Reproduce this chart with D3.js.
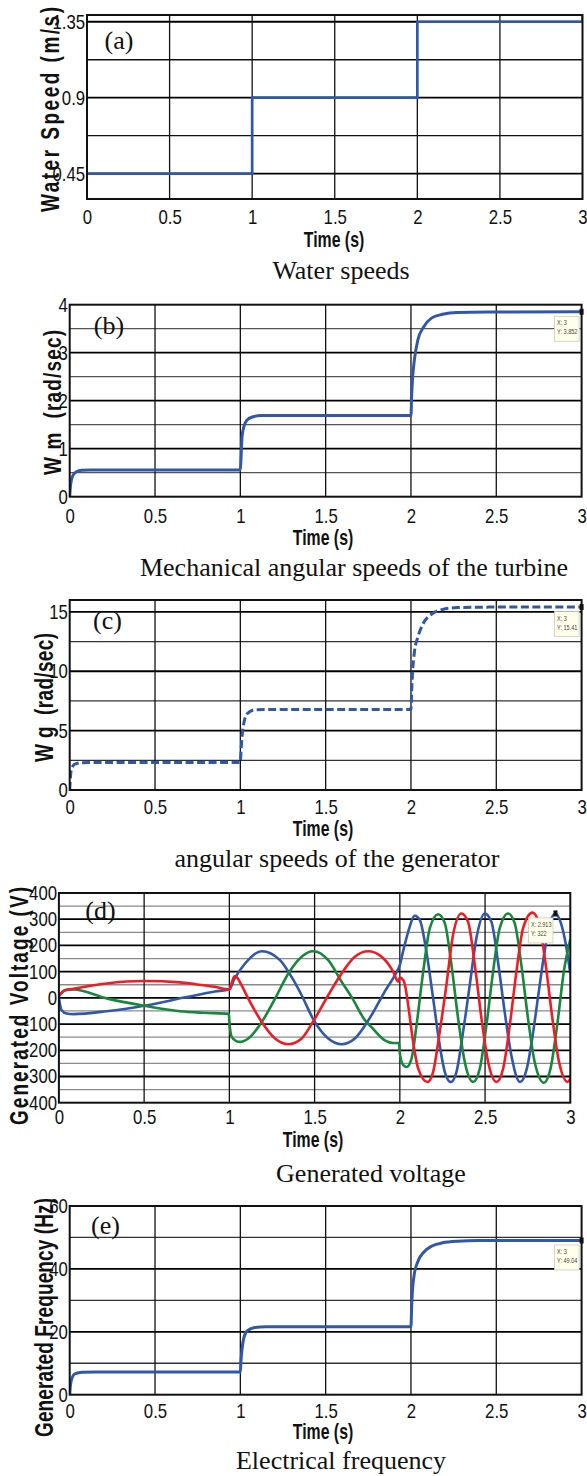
<!DOCTYPE html>
<html>
<head>
<meta charset="utf-8">
<script src="https://cdn.jsdelivr.net/npm/d3@7"></script>
<style>
    body { margin: 0; background: #fff; }
    .tick text { font-family: "Liberation Sans", Arial, sans-serif; font-size: 20px; fill: #111; }
    .xtitle { font-family: "Liberation Sans", Arial, sans-serif; font-weight: bold; font-size: 22px; fill: #111; }
    .ytitle { font-family: "Liberation Sans", Arial, sans-serif; font-weight: bold; font-size: 19px; fill: #111; white-space: pre; }
    .caption { font-family: "Liberation Serif", "Times New Roman", serif; font-size: 26px; fill: #111; }
    .letter { font-family: "Liberation Serif", "Times New Roman", serif; font-size: 26px; fill: #111; }
    .tip { font-family: "Liberation Sans", Arial, sans-serif; font-size: 6.5px; fill: #444; }
</style>
</head>
<body>
<svg id="fig" width="587" height="1476"></svg>
<script>

const xTicks = [0, 0.5, 1, 1.5, 2, 2.5, 3]

// (a) water speed
const waterTicks = [0.45, 0.9, 1.35]
const waterGrid = [0.45, 0.675, 0.9, 1.125, 1.35]
const waterTime = [0, 1, 1, 2, 2, 3, 3]
const waterSpeed = [0.45, 0.45, 0.9, 0.9, 1.35, 1.35, 1.8]

// (b) mechanical speed
const wmTicks = [0, 1, 2, 3, 4]
const wmGrid = [0.5, 1, 1.5, 2, 2.5, 3, 3.5]
const wmTime = [0, 0.004, 0.01, 0.02, 0.04, 0.07, 0.12, 1.0, 1.004, 1.01, 1.02, 1.04, 1.07, 1.12, 2.0, 2.004, 2.01, 2.02, 2.04, 2.075, 2.12, 2.185, 2.27, 2.45, 3.0]
const wmValue = [0, 0.2, 0.35, 0.45, 0.52, 0.55, 0.556, 0.556, 0.8, 1.25, 1.45, 1.6, 1.66, 1.69, 1.69, 2.1, 2.5, 2.85, 3.26, 3.54, 3.72, 3.8, 3.84, 3.85, 3.852]

// (c) generator speed
const wgTicks = [0, 5, 10, 15]
const wgGrid = [2.5, 5, 7.5, 10, 12.5, 15]
const wgTime = [0, 0.004, 0.009, 0.03, 0.075, 0.15, 1.0, 1.004, 1.01, 1.02, 1.04, 1.085, 1.15, 2.0, 2.004, 2.01, 2.02, 2.04, 2.075, 2.12, 2.185, 2.27, 2.45, 3.0]
const wgValue = [0, 1.0, 1.68, 2.18, 2.3, 2.32, 2.32, 3.3, 4.47, 5.59, 6.42, 6.76, 6.78, 6.78, 8.3, 10.06, 11.6, 12.85, 14.1, 14.8, 15.2, 15.36, 15.4, 15.41]

// (d) generated voltage, three phases
const voltTicks = [-400, -300, -200, -100, 0, 100, 200, 300, 400]
const voltGrid = [-350, -300, -250, -200, -150, -100, -50, 0, 50, 100, 150, 200, 250, 300, 350]
const blueTime = [0, 0.016, 0.046, 0.085, 0.28, 0.5, 0.75, 0.915, 1.0, 1.029, 1.092, 1.19, 1.297, 1.365, 1.424, 1.49, 1.58, 1.658, 1.736, 1.795, 1.834, 1.912, 1.99, 2.0, 2.02, 2.049, 2.088, 2.117, 2.156, 2.195, 2.234, 2.264, 2.299, 2.332, 2.371, 2.41, 2.449, 2.498, 2.537, 2.576, 2.615, 2.654, 2.705, 2.745, 2.78, 2.81, 2.85, 2.88, 2.913, 2.945, 2.975, 3.0]
const blueVolt = [0, -47, -60, -62, -51, -30, 3, 24, 33, 71, 131, 178, 144, 80, 10, -79, -155, -177, -155, -106, -66, 25, 110, 125, 180, 252, 313, 297, 176, 0, -181, -283, -321, -283, -130, 48, 227, 322, 290, 137, -53, -219, -321, -270, -140, 0, 180, 285, 322, 285, 200, 93]
const greenTime = [0, 0.036, 0.085, 0.28, 0.5, 0.71, 0.85, 0.997, 1.0, 1.013, 1.04, 1.062, 1.111, 1.19, 1.268, 1.346, 1.424, 1.49, 1.58, 1.658, 1.72, 1.795, 1.834, 1.912, 1.96, 1.995, 2.0, 2.02, 2.04, 2.069, 2.098, 2.137, 2.176, 2.225, 2.264, 2.303, 2.342, 2.381, 2.43, 2.469, 2.508, 2.547, 2.586, 2.635, 2.674, 2.713, 2.752, 2.791, 2.845, 2.884, 2.923, 2.962, 3.0]
const greenVolt = [5, 29, 32, -2, -30, -51, -57, -61, -90, -148, -165, -168, -155, -92, -3, 93, 157, 178, 144, 62, 0, -85, -112, -162, -172, -172, -212, -257, -264, -231, -104, 100, 266, 319, 284, 125, -79, -245, -321, -270, -104, 100, 266, 322, 284, 125, -79, -245, -324, -270, -104, 100, 223]
const redTime = [0, 0.036, 0.085, 0.28, 0.5, 0.71, 0.8, 0.915, 1.0, 1.015, 1.03, 1.045, 1.07, 1.111, 1.19, 1.268, 1.346, 1.424, 1.49, 1.58, 1.658, 1.736, 1.815, 1.893, 1.961, 1.99, 2.0, 2.02, 2.03, 2.049, 2.078, 2.108, 2.162, 2.195, 2.234, 2.273, 2.312, 2.361, 2.4, 2.44, 2.479, 2.518, 2.567, 2.606, 2.645, 2.684, 2.723, 2.778, 2.817, 2.856, 2.895, 2.934, 2.985, 3.0]
const redVolt = [10, 29, 35, 55, 64, 59, 52, 42, 32, 60, 82, 78, 50, -3, -92, -155, -177, -155, -92, 10, 93, 157, 178, 157, 100, 62, 77, 68, 49, -28, -168, -270, -321, -283, -130, 48, 240, 322, 290, 125, -79, -245, -321, -270, -104, 100, 266, 325, 284, 125, -79, -245, -321, -308]

// (e) electrical frequency
const freqTicks = [0, 20, 40, 60]
const freqGrid = [10, 20, 30, 40, 50]
const freqTime = [0, 0.004, 0.009, 0.03, 0.075, 0.15, 1.0, 1.004, 1.01, 1.02, 1.04, 1.085, 1.15, 2.0, 2.004, 2.01, 2.02, 2.04, 2.075, 2.12, 2.185, 2.27, 2.4, 3.0]
const freqValue = [0, 2.8, 4.5, 6.6, 7.1, 7.2, 7.2, 11, 14.5, 18, 20.3, 21.4, 21.6, 21.6, 28, 34, 38.5, 42.3, 45.3, 47.2, 48.3, 48.8, 49.0, 49.04]

const BLUE = "#3157a8", RED = "#ee1c24", GREEN = "#17873b"

const panels = [
    { id: "a", left: 87, right: 582.5, top: 15, bottom: 199, yDomain: [0.3, 1.39], yTicks: waterTicks, yGrid: waterGrid,
      minor: "#111", curve: d3.curveLinear, xPad: 11,
      series: [{ t: waterTime, v: waterSpeed, color: BLUE, width: 2.7 }],
      ylabel: "Water Speed (m/s)", ylBase: 59, ylMid: 109.5, ylLen: 205, ylCap: 18.5,
      letter: "(a)", letterX: 119, letterY: 40, timeX: 334, timeY: 240, caption: "Water speeds", capX: 341, capY: 270 },
    { id: "b", left: 69.7, right: 581.6, top: 304.7, bottom: 496.7, yDomain: [0, 4], yTicks: wmTicks, yGrid: wmGrid,
      minor: "#555", curve: d3.curveMonotoneX, xPad: 12,
      series: [{ t: wmTime, v: wmValue, color: BLUE, width: 3 }],
      tip: { x: 3, y: 3.852, lines: ["X: 3", "Y: 3.852"] },
      ylabel: "W m  (rad/sec)", ylBase: 60.7, ylMid: 402.5, ylLen: 145, ylCap: 17.6,
      letter: "(b)", letterX: 109, letterY: 325, timeX: 323, timeY: 538, caption: "Mechanical angular speeds of the turbine", capX: 354, capY: 567 },
    { id: "c", left: 69.7, right: 581.6, top: 600, bottom: 790, yDomain: [0, 16], yTicks: wgTicks, yGrid: wgGrid,
      minor: "#333", curve: d3.curveMonotoneX, xPad: 10,
      series: [{ t: wgTime, v: wgValue, color: BLUE, width: 3, dash: "8,3.5" }],
      tip: { x: 3, y: 15.41, lines: ["X: 3", "Y: 15.41"] },
      ylabel: "W g  (rad/sec)", ylBase: 52.5, ylMid: 697.5, ylLen: 129, ylCap: 18.8,
      letter: "(c)", letterX: 107.5, letterY: 620, timeX: 323, timeY: 829, caption: "angular speeds of the generator", capX: 337, capY: 858 },
    { id: "d", left: 58.9, right: 570.3, top: 893, bottom: 1102.7, yDomain: [-400, 400], yTicks: voltTicks, yGrid: voltGrid,
      minor: "#8a8a8a", curve: d3.curveMonotoneX, xPad: 7,
      series: [
          { t: blueTime, v: blueVolt, color: BLUE, width: 2.6 },
          { t: greenTime, v: greenVolt, color: GREEN, width: 2.6 },
          { t: redTime, v: redVolt, color: RED, width: 2.6 }],
      tip: { x: 2.913, y: 322, lines: ["X: 2.913", "Y: 322"] },
      ylabel: "Generated Voltage (V)", ylBase: 28, ylMid: 1006, ylLen: 238, ylCap: 18.7,
      letter: "(d)", letterX: 100.5, letterY: 910, timeX: 313, timeY: 1140, caption: "Generated voltage", capX: 371, capY: 1173 },
    { id: "e", left: 69.7, right: 581.6, top: 1206, bottom: 1394.7, yDomain: [0, 60], yTicks: freqTicks, yGrid: freqGrid,
      minor: "#333", curve: d3.curveMonotoneX, xPad: 9,
      series: [{ t: freqTime, v: freqValue, color: BLUE, width: 3 }],
      tip: { x: 3, y: 49.04, lines: ["X: 3", "Y: 49.04"] },
      ylabel: "Generated Frequency (Hz)", ylBase: 52.5, ylMid: 1317.5, ylLen: 239, ylCap: 18,
      letter: "(e)", letterX: 105.5, letterY: 1225, timeX: 323, timeY: 1432, caption: "Electrical frequency", capX: 341, capY: 1460 }
]

const svg = d3.select("#fig")

const drawPanel = (p) => {

    const x = d3.scaleLinear().domain([0, 3]).range([p.left, p.right])
    const y = d3.scaleLinear().domain(p.yDomain).range([p.bottom, p.top])
    const g = svg.append("g").attr("id", "panel-" + p.id)

    //////////
    // GRID //
    //////////

    g.append("g").selectAll("line")
        .data(p.yGrid)
        .join("line")
        .attr("x1", p.left).attr("x2", p.right)
        .attr("y1", d => y(d)).attr("y2", d => y(d))
        .attr("stroke", d => p.yTicks.includes(d) ? "#000" : p.minor)
        .attr("stroke-width", d => p.yTicks.includes(d) ? 1.8 : 1.3)

    g.append("g").selectAll("line")
        .data(xTicks.slice(1, -1))
        .join("line")
        .attr("x1", d => x(d)).attr("x2", d => x(d))
        .attr("y1", p.top).attr("y2", p.bottom)
        .attr("stroke", "#111")
        .attr("stroke-width", 1.3)

    ////////////
    // SERIES //
    ////////////

    svg.append("clipPath").attr("id", "clip-" + p.id)
        .append("rect")
        .attr("x", p.left).attr("y", p.top)
        .attr("width", p.right - p.left).attr("height", p.bottom - p.top)

    const line = d3.line().x(d => x(d[0])).y(d => y(d[1])).curve(p.curve)

    p.series.forEach(s => {
        g.append("path")
            .datum(d3.zip(s.t, s.v))
            .attr("d", line)
            .attr("clip-path", `url(#clip-${p.id})`)
            .attr("fill", "none")
            .attr("stroke", s.color)
            .attr("stroke-width", s.width)
            .attr("stroke-dasharray", s.dash || null)
            .attr("stroke-linejoin", "round")
    })

    g.append("rect")
        .attr("x", p.left).attr("y", p.top)
        .attr("width", p.right - p.left).attr("height", p.bottom - p.top)
        .attr("fill", "none")
        .attr("stroke", "#111")
        .attr("stroke-width", 2)

    //////////
    // AXES //
    //////////

    // narrow tick labels like the MATLAB export
    g.append("g")
        .attr("transform", `translate(0, ${p.bottom})`)
        .call(d3.axisBottom(x).tickValues(xTicks).tickSize(0).tickPadding(p.xPad).tickFormat(d => String(d)))
        .call(a => a.select(".domain").remove())
        .call(a => a.selectAll("text").attr("transform", "scale(0.84,1)"))

    g.append("g")
        .attr("transform", `translate(${p.left - 1}, 0)`)
        .call(d3.axisLeft(y).tickValues(p.yTicks).tickSize(0).tickPadding(1).tickFormat(d => String(d)))
        .call(a => a.select(".domain").remove())
        .call(a => a.selectAll("text").attr("transform", "scale(0.84,1)"))

    g.append("text")
        .attr("class", "ytitle")
        .attr("transform", `translate(${p.ylBase}, ${p.ylMid}) rotate(-90) scale(1, ${p.ylCap / (0.716 * 19)})`)
        .attr("text-anchor", "middle")
        .attr("textLength", p.ylLen)
        .attr("lengthAdjust", "spacing")
        .text(p.ylabel)

    g.append("text")
        .attr("class", "xtitle")
        .attr("transform", `translate(${p.timeX}, ${p.timeY}) scale(0.72,1)`)
        .attr("text-anchor", "middle")
        .attr("dominant-baseline", "central")
        .text("Time (s)")

    g.append("text")
        .attr("class", "caption")
        .attr("x", p.capX).attr("y", p.capY)
        .attr("text-anchor", "middle")
        .attr("dominant-baseline", "central")
        .text(p.caption)

    g.append("text")
        .attr("class", "letter")
        .attr("x", p.letterX).attr("y", p.letterY)
        .attr("text-anchor", "middle")
        .attr("dominant-baseline", "central")
        .text(p.letter)

    /////////////
    // DATATIP //
    /////////////

    if (p.tip) {
        const mx = x(p.tip.x), my = y(p.tip.y)
        g.append("rect")
            .attr("x", mx - 27).attr("y", my + 4.5)
            .attr("width", 24.5).attr("height", 25)
            .attr("fill", "#ffffea").attr("stroke", "#ccccbb").attr("stroke-width", 0.8)
        g.append("g").selectAll("text")
            .data(p.tip.lines)
            .join("text")
            .attr("class", "tip")
            .attr("transform", (d, i) => `translate(${mx - 24.5}, ${my + 13.5 + i * 9}) scale(0.85,1)`)
            .text(d => d)
        g.append("rect")
            .attr("x", mx - 2).attr("y", my - 3)
            .attr("width", 4).attr("height", 6)
            .attr("fill", "#111")
    }
}

panels.forEach(drawPanel)

</script>
</body>
</html>
